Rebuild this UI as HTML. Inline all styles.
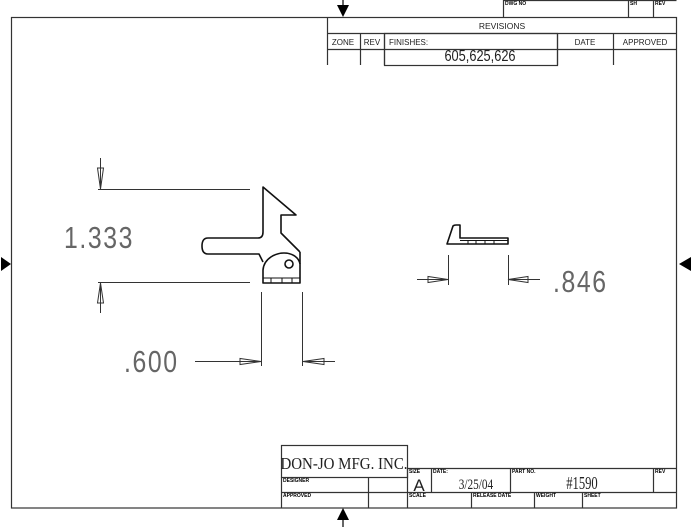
<!DOCTYPE html>
<html><head><meta charset="utf-8"><style>
html,body{margin:0;padding:0;background:#fff;}
svg{display:block;}
.t{font-family:"Liberation Sans",sans-serif;fill:#222;}
.s{font-family:"Liberation Sans",sans-serif;font-size:5px;font-weight:bold;fill:#000;}
</style></head><body>
<svg width="691" height="527" viewBox="0 0 691 527" xmlns="http://www.w3.org/2000/svg">
<g fill="none" stroke="#333" stroke-width="1.2">
<rect x="11.5" y="17.5" width="665" height="490.5"/>
<path d="M503.5 0 V17.5 M628.5 0 V17.5 M653.5 0 V17.5 M503.5 0.5 H676.5"/>
<path d="M327.5 17.5 V65 M327.5 33.5 H676.5 M327.5 49.5 H676.5 M360.5 33.5 V65 M384.5 33.5 V65 M557.5 33.5 V65 M613.5 33.5 V65"/>
<rect x="384.5" y="33.5" width="173" height="32"/>
<rect x="281.5" y="445.5" width="126" height="32"/>
<path d="M407.5 468.5 H676.5 M281.5 477.5 V508 M281.5 492.5 H676.5 M368.5 477.5 V508 M407.5 468.5 V508 M431.5 468.5 V492.5 M510.5 468.5 V492.5 M653.5 468.5 V492.5 M471.5 492.5 V508 M534.5 492.5 V508 M582.5 492.5 V508"/>
</g>
<g fill="#000">
<polygon points="337,5 349,5 343,17"/>
<polygon points="337,520 349,520 343,508"/>
<polygon points="1,257 1,271 11,264"/>
<polygon points="691,257 691,271 679,264"/>
<line x1="343" y1="0" x2="343" y2="6" stroke="#000" stroke-width="1.2"/>
<line x1="343" y1="519" x2="343" y2="527" stroke="#000" stroke-width="1.2"/>
<line x1="686" y1="264" x2="691" y2="264" stroke="#000" stroke-width="1.2"/>
</g>
<text class="s" x="505" y="5">DWG NO</text>
<text class="s" x="630" y="5">SH</text>
<text class="s" x="655" y="5">REV</text>
<text class="s" x="409" y="473">SIZE</text>
<text class="s" x="433" y="473">DATE:</text>
<text class="s" x="512" y="473">PART NO.</text>
<text class="s" x="655" y="473">REV</text>
<text class="s" x="283" y="482">DESIGNER</text>
<text class="s" x="283" y="497">APPROVED</text>
<text class="s" x="409" y="497">SCALE</text>
<text class="s" x="473" y="497">RELEASE DATE</text>
<text class="s" x="536" y="497">WEIGHT</text>
<text class="s" x="584" y="497">SHEET</text>
<g class="t" font-size="8.5">
<text x="502" y="29" text-anchor="middle">REVISIONS</text>
<text x="343" y="45" text-anchor="middle" font-size="8">ZONE</text>
<text x="372" y="45" text-anchor="middle" font-size="8">REV</text>
<text x="389" y="45" font-size="8">FINISHES:</text>
<text x="585" y="45" text-anchor="middle" font-size="8">DATE</text>
<text x="645" y="45" text-anchor="middle" font-size="8">APPROVED</text>
</g>
<text class="t" x="480" y="61" font-size="16" text-anchor="middle" transform="translate(480 0) scale(0.8 1) translate(-480 0)">605,625,626</text>
<text x="344" y="469" font-family="Liberation Serif,serif" font-size="17" text-anchor="middle" fill="#222" transform="translate(344 0) scale(0.88 1) translate(-344 0)">DON-JO MFG. INC.</text>
<text class="t" x="419" y="491" font-size="17" text-anchor="middle">A</text>
<text x="476" y="489" font-family="Liberation Serif,serif" font-size="15" fill="#222" text-anchor="middle" transform="translate(476 0) scale(0.75 1) translate(-476 0)">3/25/04</text>
<text x="582" y="489" font-family="Liberation Serif,serif" font-size="18" fill="#222" text-anchor="middle" transform="translate(582 0) scale(0.7 1) translate(-582 0)">#1590</text>
<g font-family="Liberation Sans,sans-serif" fill="#666" font-size="31" letter-spacing="2">
<text x="64" y="248" transform="translate(64 0) scale(0.8 1) translate(-64 0)">1.333</text>
<text x="124" y="372" transform="translate(124 0) scale(0.8 1) translate(-124 0)">.600</text>
<text x="553" y="292" transform="translate(553 0) scale(0.8 1) translate(-553 0)">.846</text>
</g>
<g fill="none" stroke="#333" stroke-width="1">
<path d="M98 189.5 H250 M98 282.5 H250 M100.5 158 V189 M100.5 282 V313"/>
<polygon points="100.5,189 97.5,168 103.5,168"/>
<polygon points="100.5,283 97.5,303 103.5,303"/>
<path d="M261.5 292 V366 M302.5 292 V366 M195 361.5 H261 M303 361.5 H335"/>
<polygon points="261,361.5 240,358.5 240,364.5"/>
<polygon points="303,361.5 324,358.5 324,364.5"/>
<path d="M448.5 255 V285 M508.5 255 V285 M417 279.5 H448 M508 279.5 H540"/>
<polygon points="448,279.5 428,276.5 428,282.5"/>
<polygon points="508,279.5 528,276.5 528,282.5"/>
</g>
<g fill="none" stroke="#111" stroke-width="1.6" stroke-linejoin="round">
<path d="M263 232 L263 187 L296 215 L281 215 L281 233 L300 252"/>
<path d="M263 232 Q263 238 258 238 L208 238 Q202 238 202 246 Q202 254 208 254 L259 254 L263 262"/>
<path d="M263 283 V270 C264 258 276 253 284 253 C293 253 299 258 300 264 V283 Z"/>
<path d="M300 252 V264"/>
<circle cx="289" cy="264" r="4"/>
<path d="M263 278 H300 M271 278 V283 M282 278 V283 M292 278 V283" stroke-width="1"/>
<path d="M447 244 L453 226 Q454 225 456 225 L460 225 L460 238 L508 238 L508 244 Z"/>
<path d="M460 240.5 H508 M468 240 V244 M476 240 V244 M485 240 V244 M494 240 V244" stroke-width="1"/>
</g>
</svg>
</body></html>
